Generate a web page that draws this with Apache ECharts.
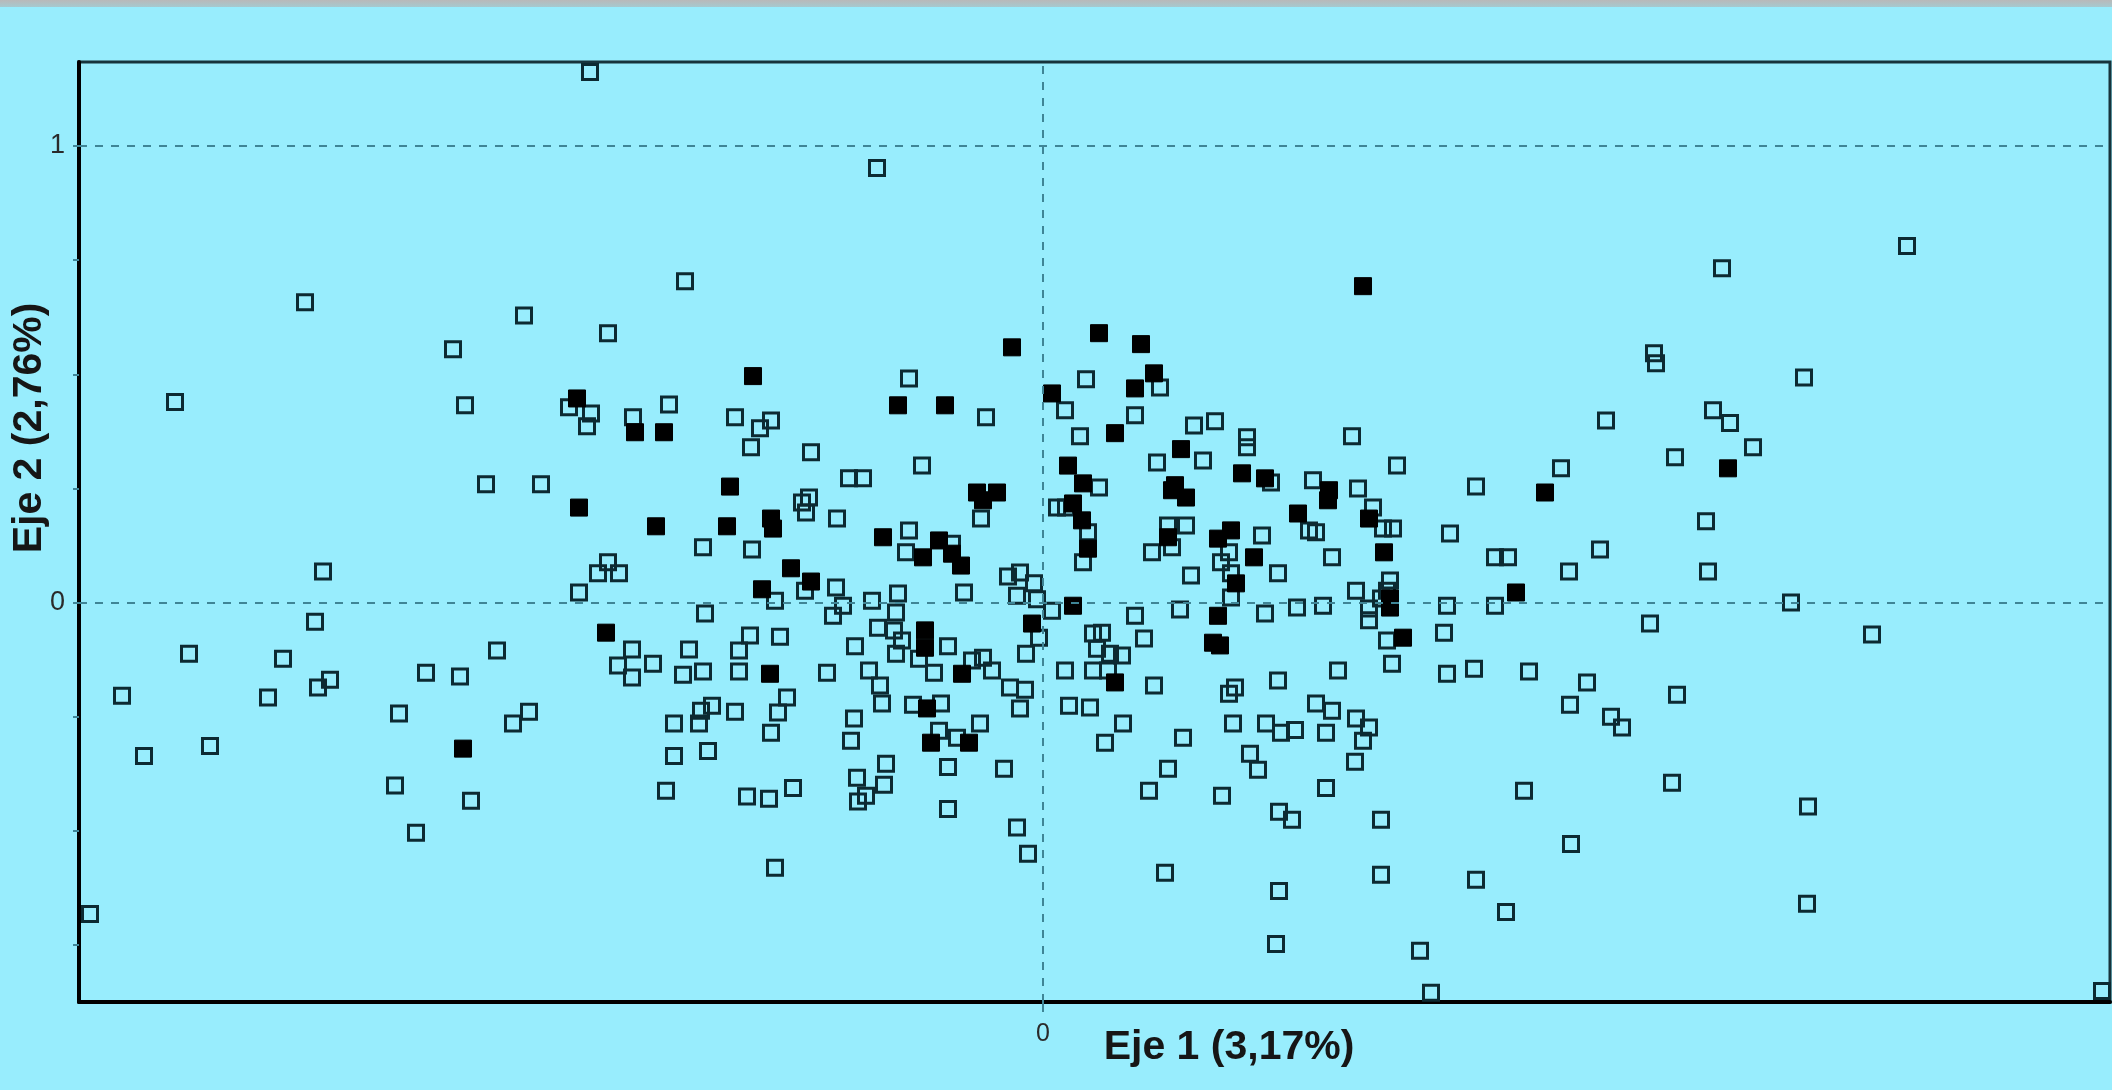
<!DOCTYPE html>
<html>
<head>
<meta charset="utf-8">
<script src="https://cdn.jsdelivr.net/npm/echarts@6/dist/echarts.min.js"></script>
<style>
    html, body { margin: 0; padding: 0; background: #98edfd; }
    #chart { width: 2112px; height: 1090px; }
</style>
</head>
<body>
<div id="chart"></div>
<script>
    // puntos abiertos (cuadrados vacíos) [eje 1, eje 2]
    var openPoints = [
        [-0.906,1.162],[-1.476,0.658],[-1.18,0.555],[-1.038,0.629],[-0.87,0.59],[-0.716,0.704],[-0.332,0.952],[-0.268,0.491],[0.086,0.489],
        [1.728,0.781],[1.358,0.732],[1.222,0.546],[1.226,0.524],[1.522,0.493],[1.126,0.399],[1.34,0.421],[1.374,0.393],[1.42,0.34],[1.264,0.318],
        [1.036,0.294],[0.866,0.254],[1.326,0.178],[0.814,0.151],[0.904,0.099],[0.93,0.099],[1.114,0.116],[1.052,0.068],[1.33,0.068],[0.808,-0.007],
        [0.904,-0.007],[1.496,0],[1.214,-0.046],[1.658,-0.07],[0.802,-0.066],[0.808,-0.156],[0.862,-0.145],[0.972,-0.151],[1.088,-0.175],[1.268,-0.202],
        [1.054,-0.224],[1.136,-0.25],[1.158,-0.274],[1.258,-0.395],[0.962,-0.412],[1.53,-0.447],[1.056,-0.529],[0.866,-0.607],[0.926,-0.678],[1.528,-0.66],
        [0.754,-0.763],[0.776,-0.855],[2.118,-0.851],
        [0.466,-0.748],[0.244,-0.592],[0.472,-0.632],[0.676,-0.596],[0.676,-0.476],[0.472,-0.458],[0.498,-0.476],[0.566,-0.406],[0.358,-0.423],
        [0.212,-0.412],[0.25,-0.364],[0.43,-0.366],[0.414,-0.331],[0.624,-0.349],[0.566,-0.285],[0.64,-0.303],[0.652,-0.274],[0.626,-0.254],
        [0.546,-0.221],[0.578,-0.237],[0.504,-0.279],[0.476,-0.285],[0.446,-0.265],[0.38,-0.265],[0.28,-0.296],[0.16,-0.265],[0.124,-0.307],
        [0.052,-0.226],[0.094,-0.23],[0.372,-0.2],[0.384,-0.186],[0.222,-0.182],[0.47,-0.171],
        [-0.046,-0.232],[-0.036,-0.191],[-0.066,-0.186],[-0.078,-0.364],[-0.052,-0.493],[-0.03,-0.55],[-0.19,-0.452],[-0.19,-0.36],[-0.126,-0.265],
        [-0.172,-0.296],[-0.208,-0.281],[-0.26,-0.224],[-0.204,-0.221],[-0.322,-0.221],[-0.326,-0.182],[-0.378,-0.254],[-0.384,-0.303],[-0.314,-0.353],
        [-0.318,-0.399],[-0.372,-0.384],[-0.354,-0.423],[-0.37,-0.436],[-0.5,-0.406],[-0.548,-0.43],[-0.592,-0.425],[-0.536,-0.581],[-0.544,-0.285],
        [-0.53,-0.241],[-0.512,-0.208],
        [-1.842,-0.204],[-1.55,-0.208],[-1.45,-0.186],[-1.288,-0.243],[-1.06,-0.265],[-1.028,-0.239],[-1.666,-0.314],[-1.798,-0.336],[-1.296,-0.401],
        [-1.144,-0.434],[-1.254,-0.504],[-1.906,-0.682],[-0.738,-0.265],[-0.738,-0.336],[-0.684,-0.237],[-0.662,-0.226],[-0.688,-0.265],[-0.67,-0.325],
        [-0.616,-0.239],[-0.754,-0.412],
        [-1.736,0.439],[-1.156,0.432],[-0.948,0.428],[-0.904,0.414],[-0.912,0.386],[-0.82,0.406],[-0.748,0.434],[-0.616,0.406],[-0.544,0.399],
        [-0.566,0.382],[-0.584,0.34],[-1.114,0.259],[-1.004,0.259],[-0.68,0.121],[-0.582,0.116],[-1.44,0.068],[-0.87,0.088],[-0.89,0.064],
        [-0.848,0.064],[-0.928,0.022],[-1.456,-0.042],[-0.676,-0.024],[-0.586,-0.072],[-0.608,-0.105],[-0.608,-0.151],[-1.708,-0.112],[-1.52,-0.123],
        [-1.092,-0.105],[-1.234,-0.154],[-1.166,-0.162],[-1.426,-0.169],[-0.822,-0.103],[-0.78,-0.134],[-0.85,-0.138],[-0.822,-0.164],[-0.708,-0.103],
        [-0.72,-0.158],[-0.68,-0.151],
        [-0.114,0.406],[-0.464,0.329],[-0.242,0.3],[-0.388,0.272],[-0.36,0.272],[-0.482,0.219],[-0.468,0.23],[-0.474,0.197],[-0.412,0.184],
        [-0.124,0.184],[-0.268,0.158],[-0.274,0.11],[-0.182,0.129],[-0.536,0.004],[-0.476,0.026],[-0.414,0.033],[-0.4,-0.007],[-0.42,-0.029],
        [-0.342,0.004],[-0.29,0.02],[-0.294,-0.022],[-0.158,0.022],[-0.07,0.057],[-0.046,0.066],[-0.018,0.042],[-0.052,0.015],[-0.012,0.007],
        [0.018,-0.018],[-0.526,-0.075],[-0.376,-0.096],[-0.33,-0.055],[-0.298,-0.061],[-0.282,-0.083],[-0.294,-0.112],[-0.19,-0.096],[-0.142,-0.127],
        [-0.12,-0.121],[-0.102,-0.149],[-0.248,-0.123],[-0.218,-0.154],[-0.008,-0.077],[-0.034,-0.112],[-0.432,-0.154],[-0.348,-0.149],
        [0.044,0.421],[0.234,0.471],[0.184,0.41],[0.074,0.364],[0.302,0.388],[0.344,0.397],[0.408,0.362],[0.408,0.34],[0.618,0.364],[0.32,0.311],
        [0.228,0.307],[0.112,0.252],[0.456,0.263],[0.54,0.268],[0.63,0.25],[0.66,0.208],[0.68,0.162],[0.7,0.162],[0.708,0.3],[0.046,0.208],
        [0.028,0.208],[0.09,0.154],[0.08,0.088],[0.25,0.169],[0.286,0.169],[0.258,0.121],[0.218,0.11],[0.372,0.11],[0.356,0.088],[0.376,0.064],
        [0.438,0.147],[0.296,0.059],[0.47,0.064],[0.532,0.158],[0.546,0.154],[0.578,0.099],[0.376,0.011],[0.274,-0.015],[0.184,-0.029],[0.444,-0.024],
        [0.508,-0.011],[0.56,-0.007],[0.626,0.026],[0.652,-0.013],[0.652,-0.039],[0.694,0.048],[0.688,0.026],[0.676,0.009],[0.688,-0.083],[0.698,-0.134],
        [0.202,-0.079],[0.1,-0.068],[0.108,-0.101],[0.134,-0.112],[0.158,-0.116],[0.118,-0.066],[0.044,-0.149],[0.1,-0.149],[0.13,-0.149],[0.59,-0.149]
    ];

    // puntos rellenos (cuadrados negros)
    var filledPoints = [
        [-0.58,0.496],[0.64,0.693],[-0.062,0.559],[0.112,0.59],[0.196,0.566],[0.222,0.502],[1.37,0.294],[1.004,0.241],[0.946,0.022],[0.144,-0.175],
        [-0.224,-0.307],[-0.148,-0.307],[-0.232,-0.232],[-1.16,-0.32],[-0.932,0.447],[-0.816,0.373],[-0.758,0.373],[-0.928,0.208],[-0.774,0.167],
        [-0.626,0.254],[-0.632,0.167],[-0.874,-0.066],[-0.29,0.432],[-0.196,0.432],[-0.544,0.184],[-0.54,0.162],[-0.132,0.241],[-0.092,0.241],
        [-0.12,0.224],[-0.32,0.143],[-0.208,0.136],[-0.24,0.099],[-0.182,0.107],[-0.164,0.081],[-0.504,0.075],[-0.464,0.046],[-0.562,0.029],
        [0.06,-0.007],[-0.022,-0.046],[-0.236,-0.061],[-0.236,-0.099],[-0.162,-0.156],[-0.546,-0.156],[0.018,0.458],[0.184,0.469],[0.144,0.371],
        [0.276,0.336],[0.05,0.3],[0.08,0.261],[0.398,0.283],[0.444,0.272],[0.258,0.246],[0.286,0.23],[0.264,0.257],[0.57,0.224],[0.572,0.246],
        [0.51,0.195],[0.652,0.184],[0.682,0.11],[0.06,0.217],[0.078,0.18],[0.09,0.118],[0.25,0.143],[0.35,0.14],[0.376,0.158],[0.422,0.099],
        [0.386,0.042],[0.35,-0.029],[0.694,-0.011],[0.694,0.009],[0.72,-0.077],[0.34,-0.088],[0.354,-0.094]
    ];

    var yTickValues = [-0.75, -0.5, -0.25, 0, 0.25, 0.5, 0.75, 1];
    var yLabelValues = [0, 1];
    var xLabelValues = [0];
    var refLinesY = [0, 1];
    var refLinesX = [0];

    var font = '"Liberation Sans", Arial, sans-serif';
    var mChart = echarts.init(document.getElementById('chart'));

    var lines = [];
    refLinesY.forEach(function (v) { lines.push({ yAxis: v }); });
    refLinesX.forEach(function (v) { lines.push({ xAxis: v }); });

    var option = {
        animation: false,
        backgroundColor: '#98edfd',
        grid: {
            left: 79, right: 2, top: 62, bottom: 88,
            show: true, borderColor: '#17343c', borderWidth: 3,
            backgroundColor: 'transparent'
        },
        xAxis: {
            type: 'value', min: -1.928, max: 2.134,
            splitLine: { show: false },
            axisLine: { show: true, onZero: false, lineStyle: { color: '#000', width: 4 } },
            axisTick: { show: true, customValues: xLabelValues, length: 10, lineStyle: { color: '#3f8596', width: 2 } },
            axisLabel: { show: true, customValues: xLabelValues, color: '#2a2a2a', fontSize: 25, fontFamily: font, margin: 20 }
        },
        yAxis: {
            type: 'value', min: -0.875, max: 1.184,
            splitLine: { show: false },
            axisLine: { show: true, onZero: false, lineStyle: { color: '#000', width: 4 } },
            axisTick: { show: true, customValues: yTickValues, length: 6, lineStyle: { color: '#3f8596', width: 2 } },
            axisLabel: { show: true, customValues: yLabelValues, color: '#2a2a2a', fontSize: 27, fontFamily: font, margin: 14 }
        },
        graphic: [
            {
                type: 'rect', shape: { x: 0, y: 0, width: 2112, height: 7 },
                style: { fill: new echarts.graphic.LinearGradient(0, 0, 0, 1, [
                    { offset: 0, color: '#b9b9b9' }, { offset: 1, color: '#a6c9cf' }]) }
            },
            {
                type: 'text', x: 30, y: 428, rotation: Math.PI / 2,
                style: { text: 'Eje 2 (2,76%)', font: 'bold 41px ' + font, fill: '#161616', align: 'center', verticalAlign: 'middle' }
            },
            {
                type: 'text', x: 1229, y: 1048,
                style: { text: 'Eje 1 (3,17%)', font: 'bold 41px ' + font, fill: '#161616', align: 'center', verticalAlign: 'middle' }
            }
        ],
        series: [
            {
                type: 'scatter', data: [], silent: true, z: 1,
                markLine: {
                    silent: true, symbol: 'none', label: { show: false },
                    lineStyle: { color: '#3f8596', type: [8, 8], width: 2 },
                    data: lines
                }
            },
            {
                name: 'abiertos', type: 'scatter', z: 3,
                symbol: 'rect', symbolSize: 15,
                itemStyle: { color: 'rgba(0,0,0,0)', borderColor: '#0c2a32', borderWidth: 3, opacity: 1 },
                data: openPoints
            },
            {
                name: 'rellenos', type: 'scatter', z: 4,
                symbol: 'rect', symbolSize: 17,
                itemStyle: { color: '#000', borderColor: '#000', borderWidth: 1, opacity: 1 },
                data: filledPoints
            }
        ]
    };
    mChart.setOption(option);
</script>
</body>
</html>
